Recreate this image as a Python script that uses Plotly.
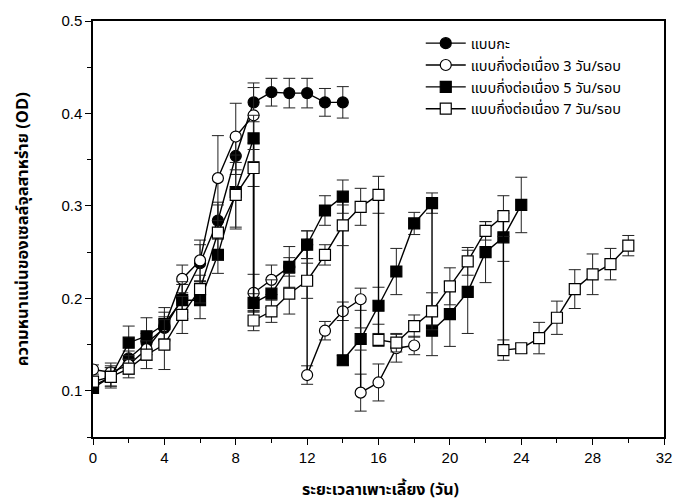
import plotly.graph_objects as go

# Culture day for each measurement (repeated day = value before / after harvest)
days_batch = [0, 1, 2, 3, 4, 5, 6, 7, 8, 9, 10, 11, 12, 13, 14]
od_batch = [0.105, 0.115, 0.135, 0.152, 0.168, 0.200, 0.238, 0.284, 0.354, 0.412,
            0.423, 0.422, 0.422, 0.412, 0.412]
err_batch = [0.005, 0.010, 0.008, 0.010, 0.012, 0.015, 0.020, 0.020, 0.020, 0.021,
             0.015, 0.016, 0.016, 0.015, 0.017]

days_3d = [0, 1, 2, 3, 4, 5, 6, 7, 8, 9, 9, 10, 11, 12, 12, 13, 14, 15, 15, 16, 17, 18]
od_3d = [0.123, 0.120, 0.128, 0.145, 0.170, 0.221, 0.241, 0.330, 0.375, 0.398, 0.206,
         0.220, 0.234, 0.258, 0.117, 0.165, 0.186, 0.199, 0.098, 0.109, 0.146, 0.149]
err_3d = [0.005, 0.010, 0.010, 0.012, 0.015, 0.015, 0.022, 0.046, 0.036, 0.030, 0.020,
          0.016, 0.010, 0.015, 0.010, 0.010, 0.010, 0.012, 0.020, 0.020, 0.015, 0.010]

days_5d = [0, 1, 2, 3, 4, 5, 6, 7, 8, 9, 9, 10, 11, 12, 13, 14, 14, 15, 16, 17, 18, 19,
           19, 20, 21, 22, 23, 24]
od_5d = [0.103, 0.115, 0.152, 0.159, 0.172, 0.198, 0.198, 0.247, 0.315, 0.373, 0.195,
         0.205, 0.234, 0.258, 0.295, 0.310, 0.133, 0.156, 0.192, 0.229, 0.281, 0.303,
         0.165, 0.183, 0.207, 0.250, 0.266, 0.301]
err_5d = [0.005, 0.010, 0.018, 0.020, 0.018, 0.020, 0.020, 0.020, 0.040, 0.025, 0.010,
          0.015, 0.022, 0.015, 0.016, 0.018, 0.005, 0.012, 0.020, 0.025, 0.012, 0.011,
          0.027, 0.035, 0.045, 0.033, 0.026, 0.030]

days_7d = [0, 1, 2, 3, 4, 5, 6, 7, 8, 9, 9, 10, 11, 12, 13, 14, 15, 16, 16, 17, 18, 19,
           20, 21, 22, 23, 23, 24, 25, 26, 27, 28, 29, 30]
od_7d = [0.110, 0.115, 0.124, 0.139, 0.150, 0.182, 0.210, 0.271, 0.312, 0.341, 0.176,
         0.186, 0.205, 0.219, 0.247, 0.279, 0.299, 0.312, 0.155, 0.152, 0.170, 0.186,
         0.213, 0.240, 0.273, 0.289, 0.144, 0.146, 0.157, 0.179, 0.210, 0.226, 0.237,
         0.257]
err_7d = [0.005, 0.012, 0.010, 0.015, 0.027, 0.020, 0.015, 0.030, 0.035, 0.020, 0.011,
          0.012, 0.022, 0.019, 0.011, 0.022, 0.020, 0.020, 0.007, 0.010, 0.012, 0.020,
          0.020, 0.015, 0.010, 0.022, 0.011, 0.005, 0.017, 0.018, 0.021, 0.022, 0.017,
          0.011]

series = [
    ("แบบกะ", days_batch, od_batch, err_batch, "circle", "black"),
    ("แบบกึ่งต่อเนื่อง 3 วัน/รอบ", days_3d, od_3d, err_3d, "circle", "white"),
    ("แบบกึ่งต่อเนื่อง 5 วัน/รอบ", days_5d, od_5d, err_5d, "square", "black"),
    ("แบบกึ่งต่อเนื่อง 7 วัน/รอบ", days_7d, od_7d, err_7d, "square", "white"),
]

fig = go.Figure()
for name, x, y, e, sym, fill in series:
    fig.add_trace(go.Scatter(
        x=x, y=y, name=name, mode="lines+markers",
        line=dict(color="black", width=1.4),
        marker=dict(symbol=sym, size=11, color=fill,
                    line=dict(color="black", width=1.2)),
        error_y=dict(type="data", array=e, visible=True, color="#222",
                     thickness=1, width=6),
    ))

thai_font = "Noto Sans Thai, Loma, Garuda, Tahoma, sans-serif"

fig.update_layout(
    width=680, height=504,
    margin=dict(l=93, r=8, t=21, b=67),
    paper_bgcolor="white", plot_bgcolor="white",
    font=dict(family="Liberation Sans, Arial", size=15, color="black"),
    showlegend=True,
    legend=dict(x=0.574, y=0.985, xanchor="left", yanchor="top",
                bgcolor="rgba(0,0,0,0)", tracegroupgap=0,
                font=dict(family=thai_font, size=14.5),
                itemwidth=40),
    annotations=[
        dict(text="<b>ระยะเวลาเพาะเลี้ยง (วัน)</b>", xref="paper", yref="paper",
             x=0.504, y=-0.128, xanchor="center", yanchor="middle", showarrow=False,
             font=dict(family=thai_font, size=16)),
        dict(text="<b>ความหนาแน่นของเซลล์จุลสาหร่าย (OD)</b>", xref="paper", yref="paper",
             x=-0.124, y=0.5, xanchor="center", yanchor="middle", showarrow=False,
             textangle=-90, font=dict(family=thai_font, size=16.5)),
    ],
)
fig.update_xaxes(
    range=[0, 32], tick0=0, dtick=4,
    showline=True, linecolor="black", linewidth=1.5, mirror=True,
    ticks="outside", ticklen=6, tickwidth=1.2, tickcolor="black",
    minor=dict(dtick=2, ticks="outside", ticklen=4, tickcolor="black"),
    showgrid=False, zeroline=False,
)
fig.update_yaxes(
    range=[0.05, 0.5], tick0=0.1, dtick=0.1, tickformat=".1f",
    showline=True, linecolor="black", linewidth=1.5, mirror=True,
    ticks="outside", ticklen=6, tickwidth=1.2, tickcolor="black",
    minor=dict(dtick=0.05, tick0=0.05, ticks="outside", ticklen=4, tickcolor="black"),
    showgrid=False, zeroline=False,
)

fig.write_html("out.html")
